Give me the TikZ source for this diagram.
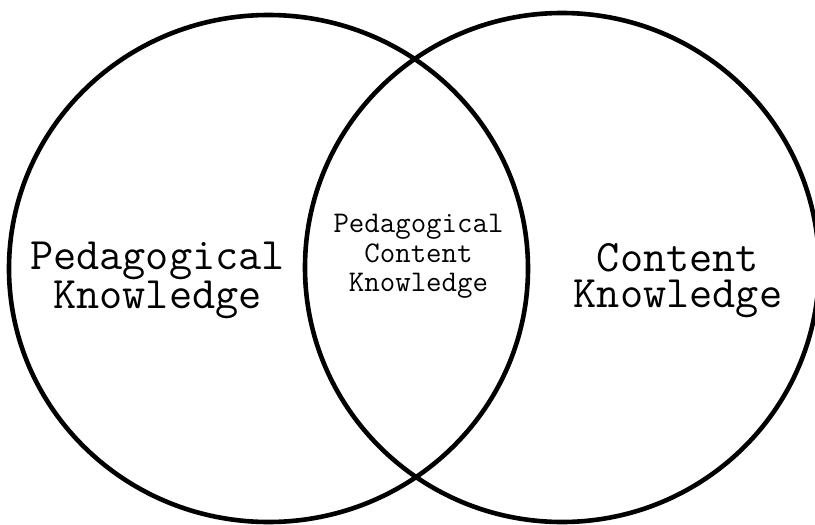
\documentclass[tikz,border=0pt]{standalone}
\usetikzlibrary{shapes.geometric}
\begin{document}
\begin{tikzpicture}[x=1pt,y=-1pt,
  ring/.style={draw=black,line width=4.6pt,ellipse,inner sep=0pt},
  bigtxt/.style={inner sep=0pt,align=center,font=\ttfamily\fontsize{45}{36.5}\selectfont},
  smalltxt/.style={inner sep=0pt,align=center,font=\ttfamily\fontsize{30}{29.5}\selectfont}]
\useasboundingbox (0,0) rectangle (815,525);
\fill[white] (0,0) rectangle (815,525);
\node[ring,minimum width=519pt,minimum height=507pt] (pk) at (268.5,268.5) {};
\node[ring,minimum width=514pt,minimum height=509pt] (ck) at (562,267.5) {};
\node[bigtxt] (pkt) at (157.5,280.5) {Pedagogical\\Knowledge};
\node[bigtxt] (ckt) at (678,280.5) {Content\\Knowledge};
\node[smalltxt] (pckt) at (418.5,256.5) {Pedagogical\\Content\\Knowledge};
\end{tikzpicture}
\end{document}
